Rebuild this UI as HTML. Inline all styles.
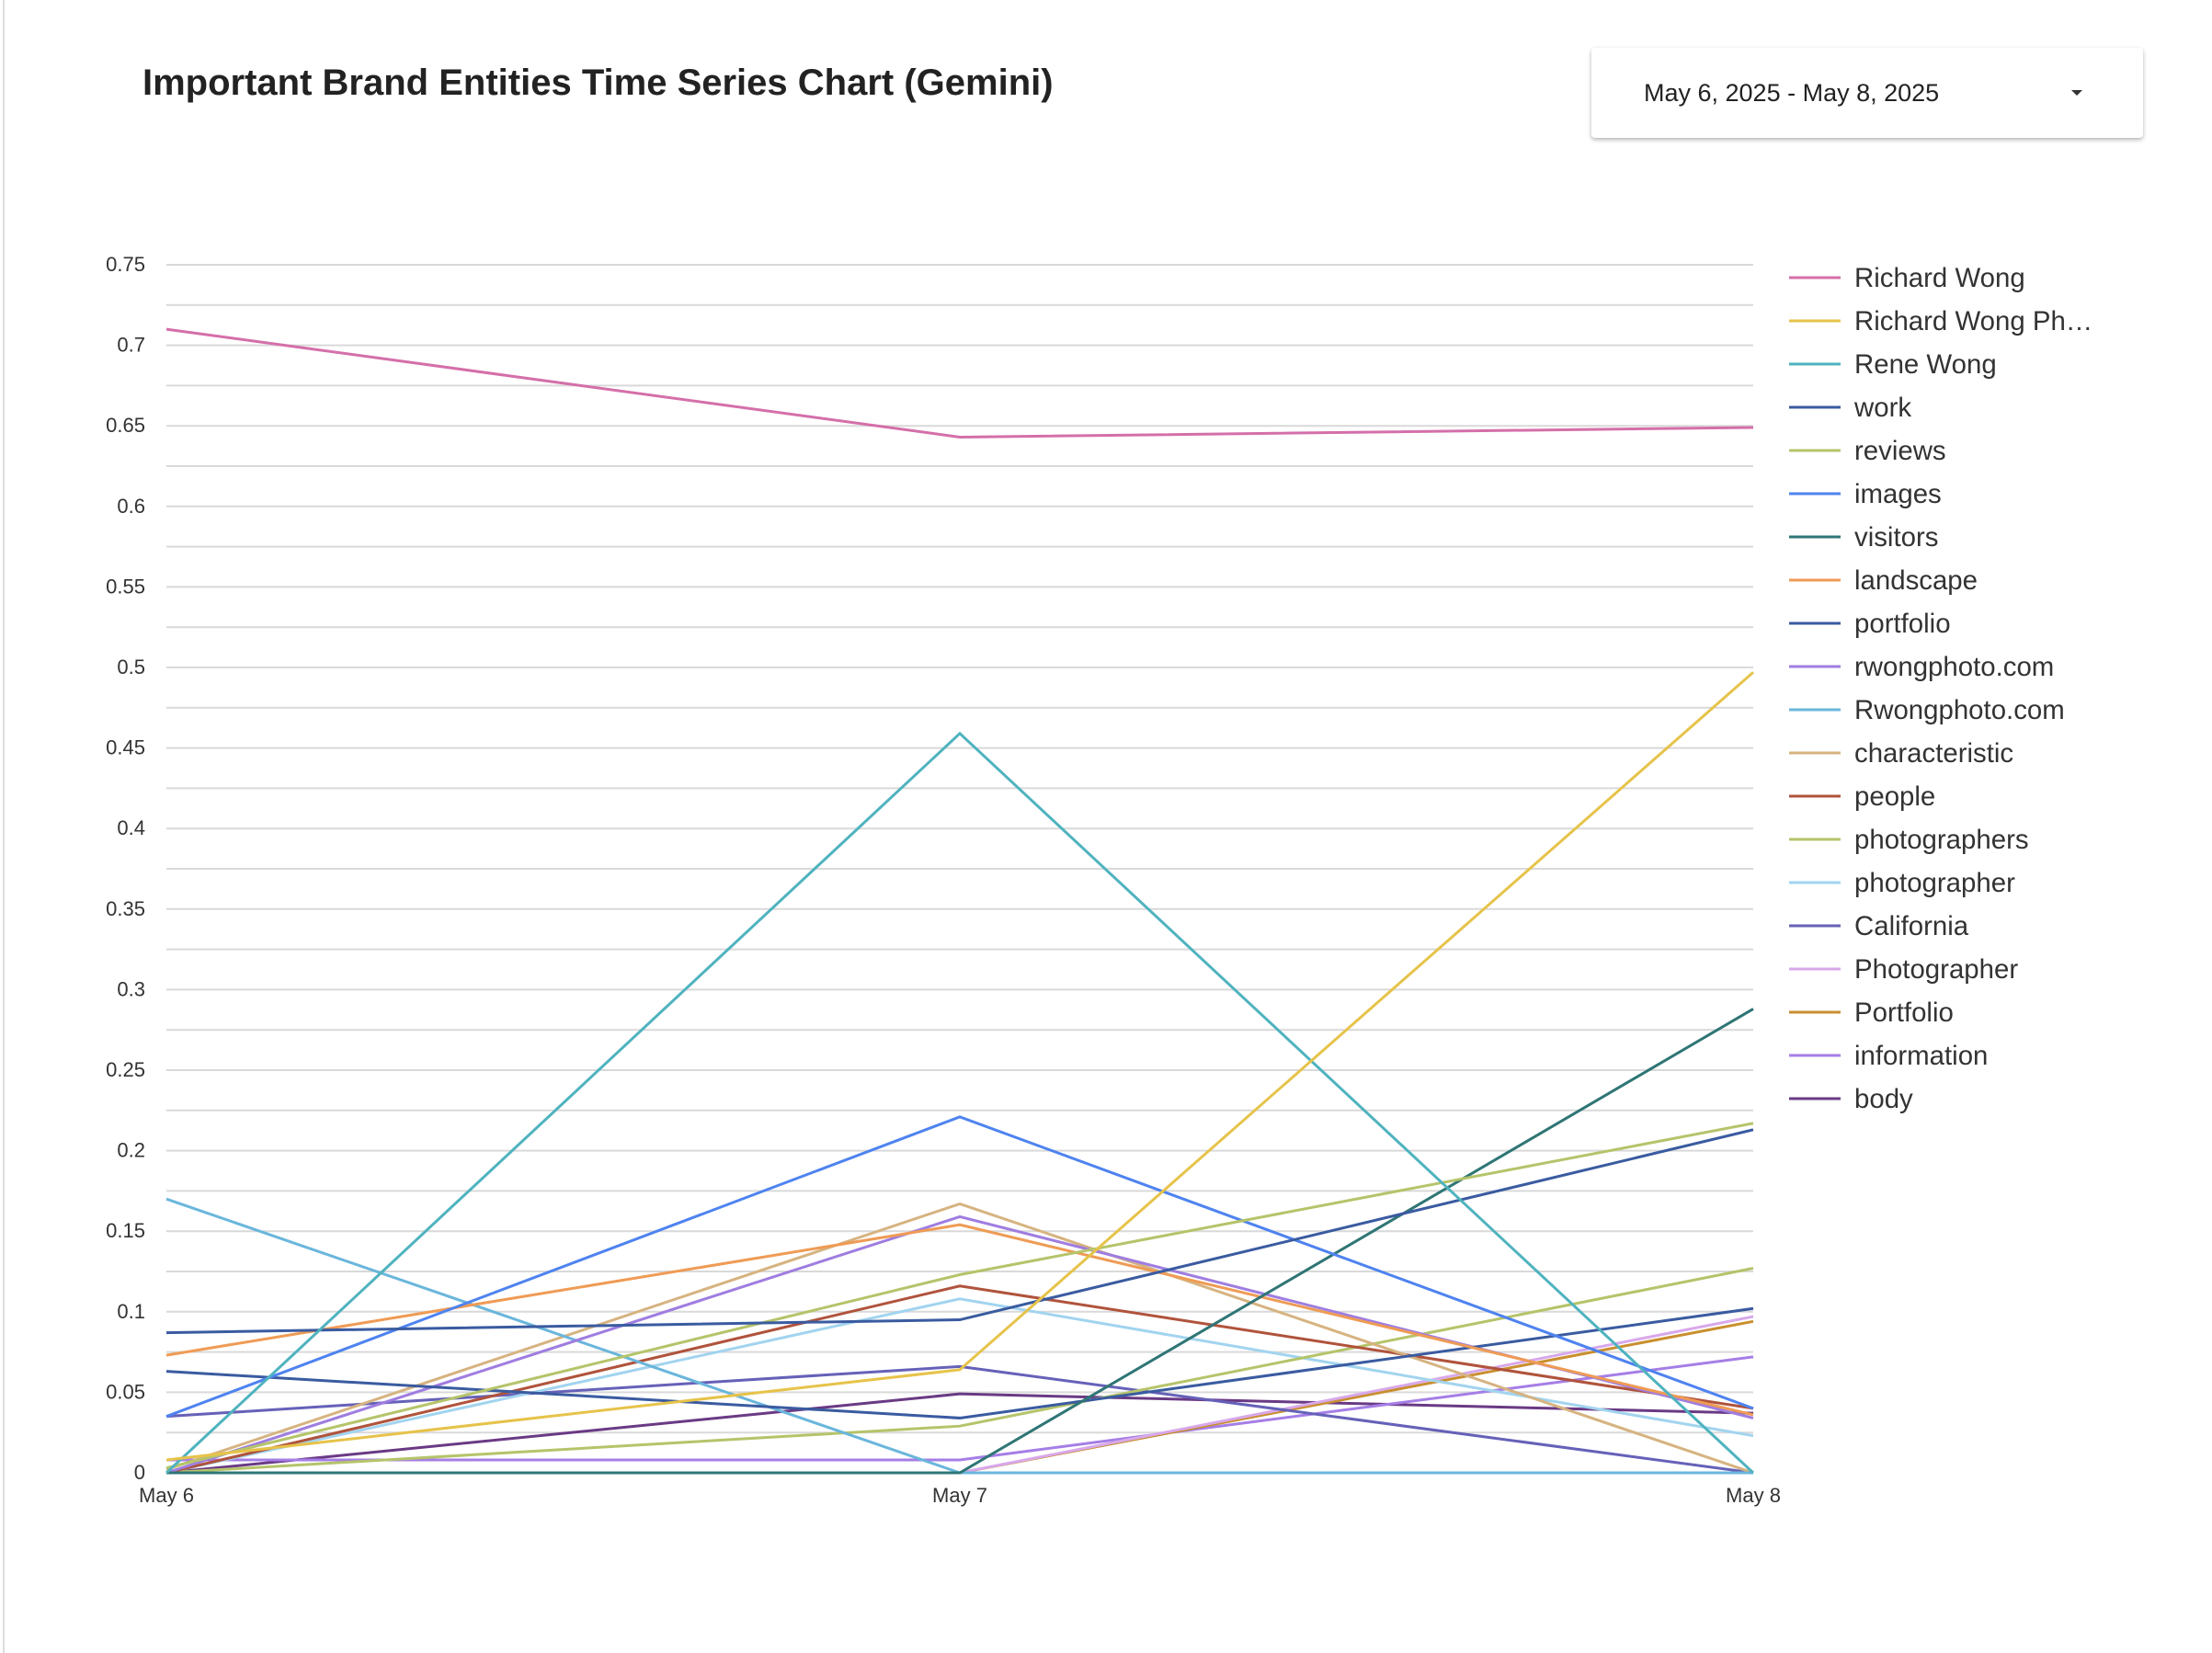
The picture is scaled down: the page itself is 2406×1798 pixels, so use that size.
<!DOCTYPE html>
<html><head><meta charset="utf-8"><style>
html,body{margin:0;padding:0;background:#fff;}
body{width:2406px;height:1798px;position:relative;overflow:hidden;font-family:"Liberation Sans",Arial,sans-serif;}
#frame{position:absolute;left:3px;top:0;width:2403px;height:1798px;border-left:2px solid #ddd;}
#title{position:absolute;left:155px;top:68px;font-size:40px;font-weight:bold;color:#222;}
#date{position:absolute;left:1731px;top:52px;width:600px;height:98px;background:#fff;border-radius:4px;box-shadow:0 2px 5px rgba(0,0,0,0.3);font-size:27px;color:#222;}
#date span{position:absolute;left:57px;top:34px;}
#date i{position:absolute;left:522px;top:46px;width:0;height:0;border-left:6px solid transparent;border-right:6px solid transparent;border-top:6px solid #333;}
</style></head><body>
<div id="frame"></div>
<div id="title">Important Brand Entities Time Series Chart (Gemini)</div>
<div id="date"><span>May 6, 2025 - May 8, 2025</span><i></i></div>
<svg id="chart" width="2406" height="1798" style="position:absolute;left:0;top:0"></svg>
<script>
const categories = ["May 6","May 7","May 8"];
const seriesNames = ["Richard Wong","Richard Wong Ph…","Rene Wong","work","reviews","images","visitors","landscape","portfolio","rwongphoto.com","Rwongphoto.com","characteristic","people","photographers","photographer","California","Photographer","Portfolio","information","body"];
const seriesColors = ["#d46fa9","#e6c34a","#4fb3bf","#3a5ba0","#b5c46a","#4e83f0","#2f7575","#ef9b55","#3a5ba0","#9f7de0","#6ab6dc","#d6b380","#b0533c","#b5c46a","#a2d4ef","#6661b8","#d8a8ea","#c98f2e","#a57ee6","#6a3a85"];
const vRichardWong = [0.71,0.643,0.649];
const vRichardWongPh = [0.008,0.064,0.497];
const vReneWong = [0,0.459,0];
const vWork = [0.087,0.095,0.213];
const vReviews = [0.003,0.123,0.217];
const vImages = [0.035,0.221,0.040];
const vVisitors = [0,0,0.288];
const vLandscape = [0.073,0.154,0.036];
const vPortfolio = [0.063,0.034,0.102];
const vRwong1 = [0,0.159,0.034];
const vRwong2 = [0.170,0,0];
const vCharacteristic = [0.002,0.167,0];
const vPeople = [0,0.116,0.040];
const vPhotographers = [0,0.029,0.127];
const vPhotographer = [0,0.108,0.023];
const vCalifornia = [0.035,0.066,0];
const vPhotographerCap = [0,0,0.097];
const vPortfolioCap = [0,0,0.094];
const vInformation = [0.008,0.008,0.072];
const vBody = [0,0.049,0.037];
const yTicks = ["0","0.05","0.1","0.15","0.2","0.25","0.3","0.35","0.4","0.45","0.5","0.55","0.6","0.65","0.7","0.75"];
const allSeries=[vRichardWong,vRichardWongPh,vReneWong,vWork,vReviews,vImages,vVisitors,vLandscape,vPortfolio,vRwong1,vRwong2,vCharacteristic,vPeople,vPhotographers,vPhotographer,vCalifornia,vPhotographerCap,vPortfolioCap,vInformation,vBody];
const svg=document.getElementById('chart');
const NS='http://www.w3.org/2000/svg';
const X0=181,X1=1907,Y0=1602,Y1=288,YMAX=0.75;
const xs=i=>X0+(X1-X0)*i/(categories.length-1);
const ys=v=>Y0-(Y0-Y1)*v/YMAX;
function mk(t,a){const e=document.createElementNS(NS,t);for(const k in a)e.setAttribute(k,a[k]);svg.appendChild(e);return e;}
for(let k=0;k<=30;k++){const v=k*0.025;
 const g=mk('line',{x1:X0,x2:X1,y1:ys(v),y2:ys(v),stroke:'#d9d9d9','stroke-width':2});
 
 }
yTicks.forEach(t=>{const e=mk('text',{x:158,y:ys(parseFloat(t))+7,'text-anchor':'end','font-size':22,fill:'#333'});e.textContent=t;
 
 });
categories.forEach((c,i)=>{const e=mk('text',{x:xs(i),y:1634,'text-anchor':'middle','font-size':22,fill:'#333'});e.textContent=c;
 
 });
for(let s=allSeries.length-1;s>=0;s--){
 const d=allSeries[s].map((v,i)=>(i?'L':'M')+xs(i)+' '+ys(v)).join(' ');
 const p=mk('path',{d:d,fill:'none',stroke:seriesColors[s],'stroke-width':3});
 
 
}
seriesNames.forEach((n,s)=>{const y=302+s*47;
 const l=mk('line',{x1:1946,x2:2002,y1:y,y2:y,stroke:seriesColors[s],'stroke-width':3});
 
 
 const t=mk('text',{x:2017,y:y+10,'font-size':29.4,fill:'#333'});t.textContent=n;
 
 });
</script>
</body></html>
